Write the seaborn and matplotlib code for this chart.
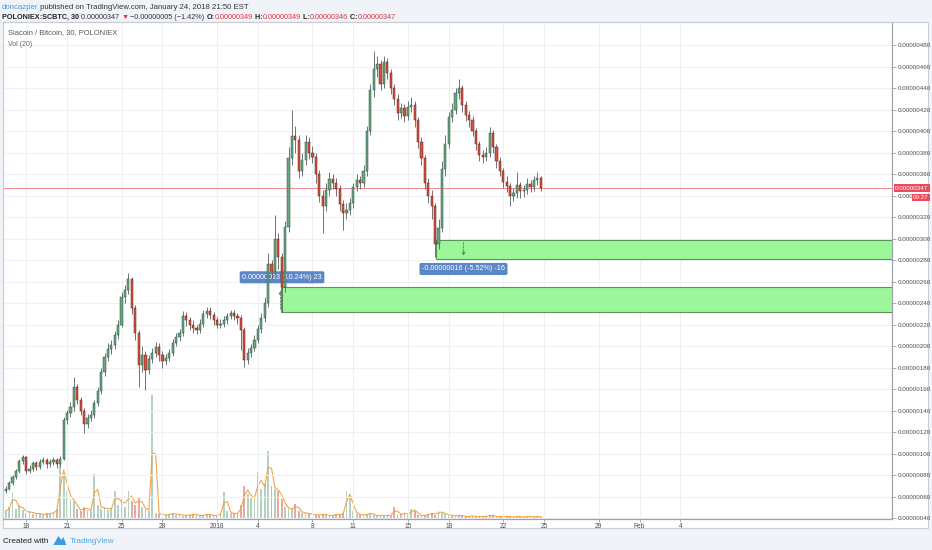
import numpy as np
import pandas as pd
import matplotlib
matplotlib.use("Agg")
import matplotlib.pyplot as plt
from matplotlib import font_manager
from matplotlib.patches import Rectangle, Polygon
from matplotlib.ticker import FuncFormatter, FixedLocator
import seaborn as sns

# ---------------- data (prices in satoshi, 6-hour candles) ----------------
start_time = "2017-12-16 12:00"
closes = [67, 73, 78, 84, 93, 97, 84, 86, 91, 88,
          92, 94, 90, 92, 94, 90, 95, 131, 138, 143,
          162, 150, 140, 128, 133, 136, 147, 158, 176, 190,
          197, 201, 210, 220, 246, 252, 262, 235, 212, 182,
          192, 178, 188, 194, 199, 192, 186, 189, 194, 203,
          208, 212, 228, 224, 220, 217, 215, 221, 230, 233,
          229, 224, 220, 221, 224, 228, 231, 228, 226, 215,
          187, 194, 198, 206, 216, 226, 240, 276, 270, 300,
          283, 255, 311, 375, 395, 392, 363, 373, 390, 380,
          376, 360, 340, 330, 345, 355, 352, 346, 332, 324,
          327, 333, 348, 354, 352, 363, 400, 438, 458, 462,
          444, 464, 454, 440, 430, 417, 421, 414, 422, 424,
          410, 390, 375, 352, 340, 330, 295, 310, 365, 388,
          413, 420, 435, 440, 424, 415, 410, 400, 388, 378,
          376, 380, 398, 385, 372, 363, 353, 349, 340, 342,
          350, 344, 345, 351, 348, 354, 356, 347]
first_open = 65
highs = [70, 75, 80, 86, 95, 99, 98, 89, 93, 93,
         95, 97, 96, 95, 97, 96, 98, 134, 141, 148,
         171, 165, 153, 142, 137, 141, 150, 162, 180, 194,
         203, 206, 214, 224, 250, 257, 268, 264, 238, 215,
         200, 195, 192, 198, 204, 203, 195, 193, 197, 207,
         212, 216, 233, 232, 227, 224, 220, 225, 234, 236,
         236, 232, 227, 225, 228, 231, 234, 234, 231, 229,
         218, 198, 202, 210, 220, 231, 246, 287, 280, 322,
         305, 287, 316, 385, 420, 405, 396, 380, 396, 394,
         386, 380, 364, 345, 352, 362, 360, 356, 350, 336,
         333, 338, 352, 360, 358, 368, 405, 444, 474, 470,
         466, 470, 468, 458, 444, 434, 426, 425, 428, 432,
         428, 413, 394, 378, 356, 345, 333, 318, 372, 396,
         418, 426, 440, 448, 443, 428, 419, 414, 403, 391,
         382, 385, 404, 401, 388, 376, 366, 358, 352, 347,
         362, 353, 350, 356, 354, 358, 362, 358]
lows = [63, 66, 71, 76, 82, 90, 81, 82, 84, 85,
        86, 90, 87, 88, 89, 87, 88, 94, 128, 134,
        140, 146, 136, 119, 124, 130, 133, 144, 155, 172,
        186, 193, 197, 207, 218, 240, 248, 230, 206, 162,
        176, 159, 174, 184, 190, 186, 180, 182, 186, 191,
        200, 205, 209, 219, 215, 212, 211, 212, 218, 226,
        225, 220, 217, 217, 218, 221, 225, 224, 221, 196,
        181, 183, 190, 195, 203, 212, 222, 236, 262, 266,
        272, 232, 250, 306, 368, 380, 356, 358, 368, 374,
        370, 352, 334, 305, 326, 340, 346, 340, 326, 308,
        318, 322, 328, 344, 346, 348, 358, 396, 432, 450,
        438, 440, 448, 434, 424, 410, 412, 408, 410, 418,
        404, 384, 368, 346, 333, 318, 283, 290, 306, 358,
        384, 408, 416, 430, 418, 409, 404, 395, 382, 372,
        370, 372, 376, 380, 366, 358, 347, 343, 330, 335,
        338, 338, 339, 341, 343, 344, 350, 344]
volumes = [8, 12, 27, 10, 14, 9,
           6, 8, 5, 6, 5, 4, 6, 5, 7, 10, 54,
           44,
           27, 20,
           18, 10, 8,
           12, 9, 8, 45, 14,
           10, 12, 9, 11, 28, 14,
           20, 12, 28, 18, 14,
           22, 12, 10, 8, 124,
           6, 5, 4, 4, 5, 6, 4, 5, 3, 4, 4, 5, 4, 3, 4, 5, 4, 3, 4, 5,
           27, 8, 6, 5,
           6, 14, 33, 25, 22, 20, 47, 30, 35, 68,
           33, 30, 28, 20,
           12, 10, 10, 15, 8, 6, 6, 5, 5,
           4, 4, 5, 4, 3, 4, 5, 4, 6,
           28, 22, 8, 5, 4,
           4, 5, 6, 4, 3, 4, 3, 4, 3, 12,
           4, 5, 6, 4, 10, 8, 4,
           3, 4, 5, 6, 4, 8, 6, 5, 4, 3, 3, 4, 3, 2, 3, 3, 2, 3, 2, 3,
           4, 3, 2, 3, 2, 3, 2, 2, 3, 2, 2, 3, 2, 2, 3, 2]

x_tick_dates = ["2017-12-18", "2017-12-21", "2017-12-25", "2017-12-28", "2018-01-01",
                "2018-01-04", "2018-01-08", "2018-01-11", "2018-01-15", "2018-01-18",
                "2018-01-22", "2018-01-25", "2018-01-29", "2018-02-01", "2018-02-04"]
x_tick_labels = ["18", "21", "25", "28", "2018", "4", "8", "11", "15", "18",
                 "22", "25", "29", "Feb", "4"]
y_ticks = [40, 60, 80, 100, 120, 140, 160, 180, 200, 220, 240, 260, 280, 300,
           320, 340, 360, 380, 400, 420, 440, 460, 480]
last_price = 347
# user drawn zones: (start date, low, high)
zone1 = ("2018-01-05 16:00", 232, 254.7)
zone2 = ("2018-01-17 01:40", 281, 298.6)
measure1 = ("0.00000023 (10.24%) 23", "2018-01-05 18:30", 264)
measure2 = ("-0.00000016 (-5.52%) -16", "2018-01-19 02:00", 271.7)

# ---------------- fonts ----------------
sns.set_theme(style="white")


def has_font(name):
    try:
        font_manager.findfont(font_manager.FontProperties(family=name),
                              fallback_to_default=False)
        return True
    except Exception:
        return False


if has_font("Liberation Sans Narrow"):
    FAM = ["Liberation Sans Narrow", "DejaVu Sans"]
    fs = 5.2
else:
    FAM = ["Liberation Sans", "DejaVu Sans"]
    fs = 4.5
plt.rcParams["font.family"] = FAM

# ---------------- derived frame ----------------
t0 = pd.Timestamp("2018-01-01")
times = pd.date_range(start_time, periods=len(closes), freq="6h")
tday = ((times - t0) / pd.Timedelta("1D")).to_numpy()
opens = [first_open] + closes[:-1]
df = pd.DataFrame({"t": tday, "open": opens, "high": highs, "low": lows,
                   "close": closes, "vol": volumes})
df["up"] = df["close"] >= df["open"]
df["volma"] = df["vol"].rolling(2, min_periods=1).mean()


def dday(s):
    return (pd.Timestamp(s) - t0) / pd.Timedelta("1D")


W, H = 932, 550
fig = plt.figure(figsize=(W / 100, H / 100), dpi=100, facecolor="#f0f3f8")


def fx(x):
    return x / W


def fy(y):
    return 1 - y / H


# white chart panel (behind everything)
fig.patches.append(Rectangle((fx(3), fy(528)), (928 - 3) / W, (528 - 22) / H,
                             transform=fig.transFigure, facecolor="white",
                             edgecolor="#c8ccd3", lw=0.8, zorder=-5))

pos = [fx(3), fy(519), (892 - 3) / W, (519 - 22) / H]
ax_vol = fig.add_axes(pos)
ax = fig.add_axes(pos, sharex=ax_vol)
ax_vol.set_axis_off()
ax.patch.set_visible(False)
ax_vol.patch.set_visible(False)

XMIN, XMAX = -15.70, 49.52
ax.set_xlim(XMIN, XMAX)
ax.set_ylim(39.2, 501.4)
ax_vol.set_ylim(0, 497)

# volume
up_c, dn_c = "#6ba583", "#d75442"
vcols = [up_c if u else dn_c for u in df["up"]]
ax_vol.bar(df["t"], df["vol"], width=0.13, color=vcols, alpha=0.5, lw=0)
sns.lineplot(x=df["t"], y=df["volma"], ax=ax_vol, color="#f39c35", lw=0.8,
             alpha=0.9, legend=False)
ax_vol.set_xlim(XMIN, XMAX)

# grid
ax.set_axisbelow(True)
ax.grid(True, color="#edf0f4", lw=0.8)
xt = [dday(d) for d in x_tick_dates]
ax.xaxis.set_major_locator(FixedLocator(xt))
ax.set_xticklabels(x_tick_labels)
ax.yaxis.set_major_locator(FixedLocator(y_ticks))
ax.yaxis.set_major_formatter(FuncFormatter(lambda v, p: f"{v * 1e-8:.8f}"))
ax.yaxis.tick_right()
ax.tick_params(axis="y", direction="out", length=3, width=0.6, color="#9aa0a8",
               labelsize=fs, labelcolor="#4d4d4d", pad=1.2, right=True, left=False)
ax.tick_params(axis="x", direction="out", length=2, width=0.6, color="#9aa0a8",
               labelsize=fs + 0.3, labelcolor="#4d4d4d", pad=0.8, bottom=True)
for s in ["left", "top"]:
    ax.spines[s].set_color("#c8ccd3")
    ax.spines[s].set_linewidth(0.8)
for s in ["right", "bottom"]:
    ax.spines[s].set_color("#9ea3ab")
    ax.spines[s].set_linewidth(0.9)

# zones
for (st, lo, hi) in (zone1, zone2):
    x0 = dday(st)
    ax.add_patch(Rectangle((x0, lo), XMAX + 1 - x0, hi - lo, facecolor="#9cf79a",
                           edgecolor="#5b935b", lw=0.8, zorder=1.5))
ax.annotate("", xy=(dday(zone1[0]), zone1[2]), xytext=(dday(zone1[0]), zone1[1]),
            arrowprops=dict(arrowstyle="-|>", linestyle=(0, (1.5, 1.5)), color="#5a9a5a",
                            lw=0.8, mutation_scale=5), zorder=1.6)
ax.annotate("", xy=(dday(measure2[1]), zone2[1]), xytext=(dday(measure2[1]), zone2[2]),
            arrowprops=dict(arrowstyle="-|>", linestyle=(0, (1.5, 1.5)), color="#5a9a5a",
                            lw=0.8, mutation_scale=5), zorder=1.6)
for (txt, ds, py) in (measure1, measure2):
    ax.text(dday(ds), py, txt, ha="center", va="center", color="white", fontsize=fs + 0.7,
            bbox=dict(boxstyle="round,pad=0.35,rounding_size=0.25", fc="#5b87c8", ec="none"),
            zorder=2)

# last price line
ax.axhline(last_price, color="#e8606d", lw=0.7, alpha=0.75, zorder=2.5)

# candles
ax.vlines(df["t"], df["low"], df["high"], color="#5c5c60", lw=0.6, zorder=3)
body_lo = np.minimum(df["open"], df["close"])
body_h = np.maximum(np.abs(df["close"] - df["open"]), 0.6)
edge = ["#225437" if u else "#5b1a13" for u in df["up"]]
ax.bar(df["t"], body_h, bottom=body_lo, width=0.16, color=vcols, edgecolor=edge,
       lw=0.35, zorder=3.5)

# price tags on the axis
ax.annotate(f"{last_price * 1e-8:.8f}", xy=(1, last_price), xycoords=("axes fraction", "data"),
            xytext=(2.2, 0), textcoords="offset points", ha="left", va="center",
            color="white", fontsize=fs, annotation_clip=False,
            bbox=dict(boxstyle="square,pad=0.2", fc="#ec4b5b", ec="none"), zorder=10)
ax.annotate("09:27", xy=(1, last_price), xycoords=("axes fraction", "data"),
            xytext=(26.5, -7), textcoords="offset points", ha="right", va="center",
            color="white", fontsize=fs, annotation_clip=False,
            bbox=dict(boxstyle="square,pad=0.2", fc="#ec4b5b", ec="none"), zorder=10)

# pane legend
fig.text(fx(8), fy(33), "Siacoin / Bitcoin, 30, POLONIEX", fontsize=fs + 0.9,
         color="#555555", va="center", ha="left")
fig.text(fx(8), fy(44), "Vol (20)", fontsize=fs + 0.5, color="#666666", va="center", ha="left")


# header lines (chained pieces)
def chain(x_px, y_px, pieces, size):
    prev = None
    for txt, col, wt in pieces:
        if prev is None:
            prev = fig.text(fx(x_px), fy(y_px), txt, color=col, fontweight=wt,
                            fontsize=size, va="bottom", ha="left")
        else:
            prev = ax.annotate(txt, xy=(1, 0), xycoords=prev, color=col, fontweight=wt,
                               fontsize=size, va="bottom", ha="left",
                               annotation_clip=False)
    return prev


red = "#e0313b"
dark = "#333333"
chain(2, 11, [("doncazper", "#4a9be0", "normal"),
              (" published on TradingView.com, January 24, 2018 21:50 EST", dark, "normal")],
      fs + 1.1)
chain(2, 21, [("POLONIEX:SCBTC, 30", "#222222", "bold"),
              (" 0.00000347 ", dark, "normal"),
              ("▼", red, "normal"),
              (" −0.00000005 (−1.42%) ", dark, "normal"),
              ("O:", "#222222", "bold"), ("0.00000349", red, "normal"),
              (" H:", "#222222", "bold"), ("0.00000349", red, "normal"),
              (" L:", "#222222", "bold"), ("0.00000346", red, "normal"),
              (" C:", "#222222", "bold"), ("0.00000347", red, "normal")],
      fs + 0.7)

# footer
created = fig.text(fx(3), fy(545), "Created with", fontsize=fs + 1.4, color="#222222",
                   va="bottom")
fig.canvas.draw()
bb = created.get_window_extent()
lx = bb.x1 + 5
fig.patches.append(Polygon([[lx / W, fy(545)], [(lx + 5) / W, fy(536)],
                            [(lx + 8) / W, fy(540)], [(lx + 10) / W, fy(537)],
                            [(lx + 13) / W, fy(545)]], closed=True,
                           transform=fig.transFigure, facecolor="#3d9be0",
                           edgecolor="none"))
fig.text((lx + 16) / W, fy(545), "TradingView", fontsize=fs + 1.4, color="#4aa6e6",
         va="bottom")

fig.savefig("out.png", dpi=100, facecolor=fig.get_facecolor())
